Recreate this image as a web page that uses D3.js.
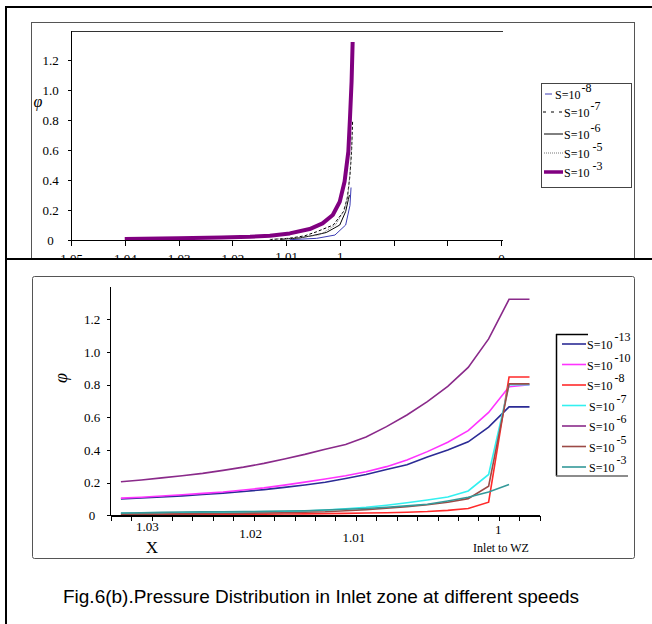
<!DOCTYPE html>
<html>
<head>
<meta charset="utf-8">
<script src="https://cdn.jsdelivr.net/npm/d3@7"></script>
<style>
  body { margin: 0; background: #fff; }
  svg { display: block; }
  .axis path, .axis line { stroke: #000; shape-rendering: crispEdges; }
</style>
</head>
<body>
<script>
// ---- data: upper chart (X, phi pairs) ----
const topTickValues = [1.05, 1.04, 1.03, 1.02, 1.01, 1.0, 0.99, 0.98, 0.97];
const topTickLabels = ["1.05", "1.04", "1.03", "1.02", "1.01", "1", "", "", "0"];
const topS8 = [[1.0093, 0.002], [1.0043, 0.011], [1.0009, 0.033], [0.9989, 0.1], [0.9981, 0.23], [0.9979, 0.35]];
const topS7 = [[1.0130, 0.003], [1.0093, 0.012], [1.0065, 0.028], [1.0043, 0.055], [1.0012, 0.1], [0.9993, 0.19], [0.9986, 0.28], [0.9981, 0.43], [0.9978, 0.59], [0.9976, 0.8]];
const topS6 = [[1.0111, 0.004], [1.0074, 0.014], [1.0050, 0.03], [1.0025, 0.05], [1.0000, 0.1], [0.9989, 0.19], [0.9984, 0.27], [0.9982, 0.30]];
const topS5 = [[1.0130, 0.004], [1.0074, 0.015], [1.0037, 0.035], [1.0008, 0.1], [0.9991, 0.2], [0.9984, 0.32], [0.9980, 0.5], [0.9977, 0.7]];
const topS3 = [[1.0400, 0.006], [1.0300, 0.011], [1.0220, 0.017], [1.0167, 0.022], [1.0130, 0.029], [1.0093, 0.044], [1.0056, 0.073], [1.0032, 0.111], [1.0013, 0.167], [1.0000, 0.255], [0.9991, 0.39], [0.9984, 0.59], [0.9981, 0.81], [0.9978, 1.055], [0.9976, 1.32]];
const topLegend = ["-8", "-7", "-6", "-5", "-3"];

// ---- data: lower chart (21 categories, one value per category) ----
const botCategoryCount = 21;
const botTickLabels = ["1.03", "1.02", "1.01", "1"];
const botTickLabelAt = [1.8, 6.85, 11.9, 18.97]; // category units
const botS13 = [0.100, 0.106, 0.112, 0.119, 0.127, 0.136, 0.146, 0.157, 0.171, 0.186, 0.202, 0.225, 0.250, 0.280, 0.310, 0.357, 0.400, 0.450, 0.540, 0.664, 0.664];
const botS10 = [0.105, 0.111, 0.118, 0.126, 0.134, 0.143, 0.155, 0.168, 0.185, 0.203, 0.222, 0.242, 0.267, 0.298, 0.339, 0.390, 0.447, 0.518, 0.630, 0.787, 0.800];
const botS8 = [0.002, 0.003, 0.003, 0.004, 0.005, 0.005, 0.006, 0.007, 0.008, 0.009, 0.010, 0.012, 0.014, 0.016, 0.019, 0.023, 0.030, 0.042, 0.080, 0.847, 0.847];
const botS7 = [0.012, 0.013, 0.015, 0.016, 0.017, 0.018, 0.019, 0.021, 0.023, 0.026, 0.032, 0.040, 0.049, 0.062, 0.077, 0.094, 0.112, 0.149, 0.250, 0.800, 0.800];
const botS6 = [0.205, 0.216, 0.229, 0.242, 0.257, 0.275, 0.295, 0.318, 0.345, 0.373, 0.405, 0.434, 0.480, 0.543, 0.614, 0.696, 0.790, 0.906, 1.080, 1.323, 1.323];
const botS5 = [0.006, 0.007, 0.008, 0.009, 0.010, 0.011, 0.012, 0.014, 0.016, 0.019, 0.022, 0.028, 0.035, 0.043, 0.053, 0.065, 0.080, 0.102, 0.178, 0.805, 0.805];
const botS3 = [0.014, 0.016, 0.018, 0.020, 0.021, 0.022, 0.023, 0.024, 0.026, 0.028, 0.032, 0.037, 0.042, 0.049, 0.058, 0.068, 0.088, 0.110, 0.143, 0.188, null];
const botLegend = ["-13", "-10", "-8", "-7", "-6", "-5", "-3"];

const yTickValues = [0, 0.2, 0.4, 0.6, 0.8, 1.0, 1.2];
const caption = "Fig.6(b).Pressure Distribution in Inlet zone at different speeds";

const serif = '"Liberation Serif", "Times New Roman", serif';
const yFmt = (d) => (d === 0 ? "0" : d3.format(".1f")(d));

const svg = d3.select("body").append("svg").attr("width", 652).attr("height", 624);
svg.append("rect").attr("width", 652).attr("height", 624).attr("fill", "#fff");

// ================= upper panel =================
svg.append("rect") // chart area box
  .attr("x", 31.5).attr("y", 22.5).attr("width", 603).attr("height", 290)
  .attr("fill", "#fff").attr("stroke", "#555");

const xTop = d3.scaleLinear().domain([1.05, 0.97]).range([71, 501]);
const yTop = d3.scaleLinear().domain([0, 1.4]).range([240, 30]);

// top border of plot area
svg.append("line").attr("x1", 71).attr("x2", 503).attr("y1", 31.5).attr("y2", 31.5)
  .attr("stroke", "#333").attr("stroke-width", 1);

const topSeries = [
  { data: topS8, color: "#3c3cb4", width: 1, dash: null },
  { data: topS7, color: "#000", width: 1, dash: "3,2" },
  { data: topS6, color: "#000", width: 1, dash: null },
  { data: topS5, color: "#777", width: 1, dash: "1,1" },
  { data: topS3, color: "#800080", width: 4, dash: null },
];

const topLine = d3.line().x((d) => xTop(d[0])).y((d) => yTop(d[1]));
svg.append("g").selectAll("path")
  .data(topSeries)
  .enter()
  .append("path")
  .attr("d", (s) => topLine(s.data))
  .attr("fill", "none")
  .attr("stroke", (s) => s.color)
  .attr("stroke-width", (s) => s.width)
  .attr("stroke-dasharray", (s) => s.dash)
  .attr("stroke-linejoin", "round");

// axes
const gTopX = svg.append("g").attr("class", "axis").attr("transform", "translate(0,240.5)")
  .call(d3.axisBottom(xTop).tickValues(topTickValues).tickFormat((d, i) => topTickLabels[i]).tickSize(5).tickSizeOuter(0));
gTopX.select(".domain").attr("d", "M71,0H503");
// labels sit low and get cut by the lower panel, as in the original
gTopX.selectAll("text").attr("y", 22).attr("dy", 0)
  .attr("transform", (d, i) => (topTickLabels[i] === "1.01" || topTickLabels[i] === "1" ? "translate(0,-2)" : null));

const gTopY = svg.append("g").attr("class", "axis").attr("transform", "translate(71.5,0)")
  .call(d3.axisLeft(yTop).tickValues(yTickValues).tickFormat(yFmt).tickSize(4).tickSizeOuter(0));
gTopY.select(".domain").attr("d", "M0,31V240");
gTopY.selectAll("text").attr("text-anchor", "middle").attr("x", -21);

svg.append("text").attr("x", 38).attr("y", 107)
  .attr("text-anchor", "middle")
  .style("font-family", serif).style("font-style", "italic").style("font-size", "16px")
  .text("φ");

// legend
const lgTop = svg.append("g");
lgTop.append("rect").attr("x", 541.5).attr("y", 83.5).attr("width", 90).attr("height", 104)
  .attr("fill", "#fff").attr("stroke", "#444");
const topLegendY = [94, 112, 134, 153, 172];
topSeries.forEach((s, i) => {
  const y = topLegendY[i];
  const x0 = i === 0 ? 545 : i === 1 ? 543 : 544;
  lgTop.append("line").attr("x1", x0).attr("x2", i === 0 ? 552 : 563).attr("y1", y).attr("y2", y)
    .attr("stroke", s.color).attr("stroke-width", s.width === 4 ? 3.5 : 1)
    .attr("stroke-dasharray", s.dash === "3,2" ? "3,5" : s.dash);
  const t = lgTop.append("text").attr("x", i === 0 ? 555 : 564).attr("y", y + 5)
    .style("font-family", serif).style("font-size", "12px");
  t.append("tspan").text("S=10");
  t.append("tspan").attr("dx", i >= 3 ? 3 : 1).attr("dy", -7).text(topLegend[i]);
});

// ================= lower panel =================
svg.append("rect").attr("x", 6).attr("y", 259).attr("width", 646).attr("height", 365).attr("fill", "#fff");

svg.append("rect") // chart area box
  .attr("x", 32.5).attr("y", 276.5).attr("width", 602).attr("height", 282).attr("rx", 2)
  .attr("fill", "#fff").attr("stroke", "#555");

const xBot = d3.scaleLinear().domain([0, botCategoryCount]).range([110.7, 539.7]);
const yBot = d3.scaleLinear().domain([0, 1.4]).range([515.3, 286.7]);

const botSeries = [
  { data: botS13, color: "#2b2b95", label: botLegend[0] },
  { data: botS10, color: "#ff33ff", label: botLegend[1] },
  { data: botS8, color: "#ff2a2a", label: botLegend[2] },
  { data: botS7, color: "#33f0f0", label: botLegend[3] },
  { data: botS6, color: "#8a2a8a", label: botLegend[4] },
  { data: botS5, color: "#9c4a46", label: botLegend[5] },
  { data: botS3, color: "#339999", label: botLegend[6] },
];

const botLine = d3.line()
  .defined((d) => d !== null)
  .x((d, i) => xBot(i + 0.5))
  .y((d) => yBot(d));

svg.append("g").selectAll("path")
  .data(botSeries)
  .enter()
  .append("path")
  .attr("d", (s) => botLine(s.data))
  .attr("fill", "none")
  .attr("stroke", (s) => s.color)
  .attr("stroke-width", 1.6);

const gBotX = svg.append("g").attr("class", "axis").attr("transform", "translate(0,515.5)")
  .call(d3.axisBottom(xBot).tickValues(d3.range(botCategoryCount + 1)).tickFormat("").tickSize(5).tickSizeOuter(0));
gBotX.select(".domain").attr("stroke-width", 1.5);

const gBotY = svg.append("g").attr("class", "axis").attr("transform", "translate(110.7,0)")
  .call(d3.axisLeft(yBot).tickValues(yTickValues).tickFormat(yFmt).tickSize(4).tickSizeOuter(0));
gBotY.select(".domain").attr("d", "M0,286.7V515.3").attr("stroke-width", 1.5);
gBotY.selectAll("text").attr("text-anchor", "middle").attr("x", -18.7);

// serif tick labels everywhere
svg.selectAll(".axis text").style("font-family", serif).style("font-size", "13px").attr("fill", "#000");

// category labels, staggered as in the original
const botLabelDrop = [0, 7, 11, 3];
svg.append("g").selectAll("text")
  .data(botTickLabels)
  .enter()
  .append("text")
  .attr("x", (d, i) => xBot(botTickLabelAt[i]))
  .attr("y", (d, i) => 531 + botLabelDrop[i])
  .attr("text-anchor", "middle")
  .style("font-family", serif).style("font-size", "13px")
  .text((d) => d);

svg.append("text").attr("x", 152).attr("y", 553).attr("text-anchor", "middle")
  .style("font-family", serif).style("font-size", "17px").text("X");
svg.append("text").attr("x", 501).attr("y", 552).attr("text-anchor", "middle")
  .style("font-family", serif).style("font-size", "12px").text("Inlet to WZ");

svg.append("text").attr("transform", "translate(67,378) rotate(-90)")
  .attr("text-anchor", "middle")
  .style("font-family", serif).style("font-style", "italic").style("font-size", "18px")
  .text("φ");

// legend (only left, top and bottom edges are drawn)
const lgBot = svg.append("g");
lgBot.append("line").attr("x1", 556.5).attr("x2", 556.5).attr("y1", 334).attr("y2", 476).attr("stroke", "#000").attr("stroke-width", 1.5);
lgBot.append("line").attr("x1", 556).attr("x2", 588).attr("y1", 334.5).attr("y2", 334.5).attr("stroke", "#000").attr("stroke-width", 1.5);
lgBot.append("line").attr("x1", 556).attr("x2", 628).attr("y1", 476).attr("y2", 476).attr("stroke", "#666").attr("stroke-width", 1.5);
botSeries.forEach((s, i) => {
  const y = 344 + i * 20.5;
  lgBot.append("line").attr("x1", 562).attr("x2", 586).attr("y1", y).attr("y2", y)
    .attr("stroke", s.color).attr("stroke-width", 1.6);
  const t = lgBot.append("text").attr("x", i >= 3 ? 589 : 587).attr("y", y + 5)
    .style("font-family", serif).style("font-size", "12px");
  t.append("tspan").text("S=10");
  t.append("tspan").attr("dx", 2).attr("dy", -8).text(s.label);
});

// ================= frame and caption =================
svg.append("line").attr("x1", 6).attr("x2", 652).attr("y1", 7).attr("y2", 7).attr("stroke", "#000").attr("stroke-width", 2);
svg.append("line").attr("x1", 6).attr("x2", 652).attr("y1", 259).attr("y2", 259).attr("stroke", "#000").attr("stroke-width", 2);
svg.append("line").attr("x1", 6).attr("x2", 6).attr("y1", 6).attr("y2", 624).attr("stroke", "#000").attr("stroke-width", 2);

svg.append("text").attr("x", 321).attr("y", 603).attr("text-anchor", "middle")
  .style("font-family", '"Liberation Sans", Arial, sans-serif').style("font-size", "19px")
  .text(caption);
</script>
</body>
</html>
